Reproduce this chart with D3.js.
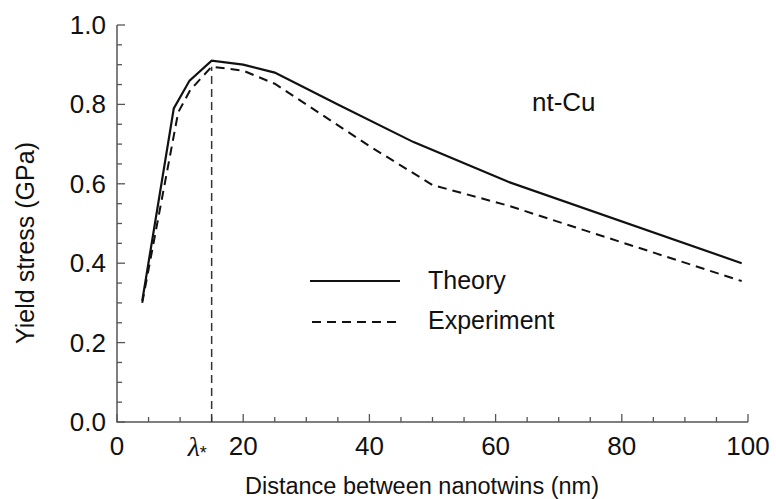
<!DOCTYPE html>
<html>
<head>
<meta charset="utf-8">
<script src="https://d3js.org/d3.v7.min.js"></script>
<style>
  body { margin: 0px; padding: 0px; background: #fff; }
  text { font-family: "Liberation Sans", Arial, sans-serif; fill: #111; }
</style>
</head>
<body>
<div id="svg_cont"></div>
<script>

// values
var theory_x = [4, 9, 11.5, 15, 20, 25, 35, 47, 62, 99];
var theory_y = [0.305, 0.79, 0.86, 0.91, 0.90, 0.88, 0.80, 0.705, 0.605, 0.40];

var exp_x = [4, 9.7, 11.6, 15, 20, 25, 30, 40, 50, 62, 99];
var exp_y = [0.30, 0.78, 0.836, 0.895, 0.885, 0.852, 0.80, 0.695, 0.597, 0.545, 0.355];

var lambda_star = 15;
var x_ticks = [0, 20, 40, 60, 80, 100];
var y_ticks = [0.0, 0.2, 0.4, 0.6, 0.8, 1.0];

var w = 776, h = 499;
var margin = {left: 117, top: 25, right: 28, bottom: 77};

var svg_main = d3.select("div#svg_cont")
  .append("svg")
  .attr("width", w)
  .attr("height", h);

var x = d3.scaleLinear().domain([0, 100]).range([margin.left, w - margin.right]);
var y = d3.scaleLinear().domain([0, 1]).range([h - margin.bottom, margin.top]);

var axis_col = "#555";

// minor + major ticks, pointing inward
var g_ax = svg_main.append("g");
d3.range(0, 101, 5).forEach(function(v){
  var major = v % 20 == 0;
  g_ax.append("line")
    .attr("x1", x(v)).attr("x2", x(v))
    .attr("y1", y(0)).attr("y2", y(0) - (major ? 8 : 5))
    .attr("stroke", axis_col).attr("stroke-width", 1.3);
});
d3.range(0, 21).forEach(function(i){
  var v = i * 0.05;
  var major = i % 4 == 0;
  g_ax.append("line")
    .attr("x1", x(0)).attr("x2", x(0) + (major ? 8 : 5))
    .attr("y1", y(v)).attr("y2", y(v))
    .attr("stroke", axis_col).attr("stroke-width", 1.3);
});

g_ax.append("path")
  .attr("d", "M" + x(0) + "," + y(1) + "V" + y(0) + "H" + x(100))
  .attr("fill", "none")
  .attr("stroke", axis_col)
  .attr("stroke-width", 1.5);

// tick labels
svg_main.selectAll(".xlab")
  .data(x_ticks)
  .enter().append("text")
    .attr("x", d => x(d))
    .attr("y", y(0) + 33)
    .attr("text-anchor", "middle")
    .style("font-size", "26px")
    .text(d => d);

svg_main.selectAll(".ylab")
  .data(y_ticks)
  .enter().append("text")
    .attr("x", x(0) - 11)
    .attr("y", d => y(d) + 9)
    .attr("text-anchor", "end")
    .style("font-size", "26px")
    .text(d => d.toFixed(1));

// lambda* label
var lam = svg_main.append("text")
  .attr("x", x(lambda_star) - 24)
  .attr("y", y(0) + 34)
  .style("font-size", "28px");
lam.append("tspan").style("font-style", "italic").style("font-family", "'Liberation Serif', serif").text("λ");
lam.append("tspan").attr("dy", 3).style("font-size", "18px").text("*");

// axis titles
svg_main.append("text")
  .attr("x", 422)
  .attr("y", h - 5)
  .attr("text-anchor", "middle")
  .style("font-size", "23.5px")
  .text("Distance between nanotwins (nm)");

svg_main.append("text")
  .attr("transform", "translate(34,243) rotate(-90)")
  .attr("text-anchor", "middle")
  .style("font-size", "25px")
  .text("Yield stress (GPa)");

// lambda* guide
var peak_i = exp_x.indexOf(lambda_star);
svg_main.append("line")
  .attr("x1", x(lambda_star)).attr("x2", x(lambda_star))
  .attr("y1", y(0)).attr("y2", y(exp_y[peak_i]))
  .attr("stroke", "#333")
  .attr("stroke-width", 1.5)
  .attr("stroke-dasharray", "8,5");

var line = d3.line()
  .x(d => x(d[0]))
  .y(d => y(d[1]));

svg_main.append("path")
  .datum(d3.zip(exp_x, exp_y))
  .attr("d", line)
  .attr("fill", "none")
  .attr("stroke", "#111")
  .attr("stroke-width", 2)
  .attr("stroke-dasharray", "9,6");

svg_main.append("path")
  .datum(d3.zip(theory_x, theory_y))
  .attr("d", line)
  .attr("fill", "none")
  .attr("stroke", "#111")
  .attr("stroke-width", 2.2);

// legend
var leg = svg_main.append("g");
leg.append("line")
  .attr("x1", 310).attr("x2", 400).attr("y1", 281).attr("y2", 281)
  .attr("stroke", "#111").attr("stroke-width", 2.2);
leg.append("line")
  .attr("x1", 312).attr("x2", 400).attr("y1", 322).attr("y2", 322)
  .attr("stroke", "#111").attr("stroke-width", 2)
  .attr("stroke-dasharray", "9,6");
leg.append("text").attr("x", 428).attr("y", 289).style("font-size", "25px").text("Theory");
leg.append("text").attr("x", 428).attr("y", 329).style("font-size", "25px").text("Experiment");

svg_main.append("text")
  .attr("x", 532).attr("y", 111)
  .style("font-size", "26px")
  .text("nt-Cu");

</script>
</body>
</html>
